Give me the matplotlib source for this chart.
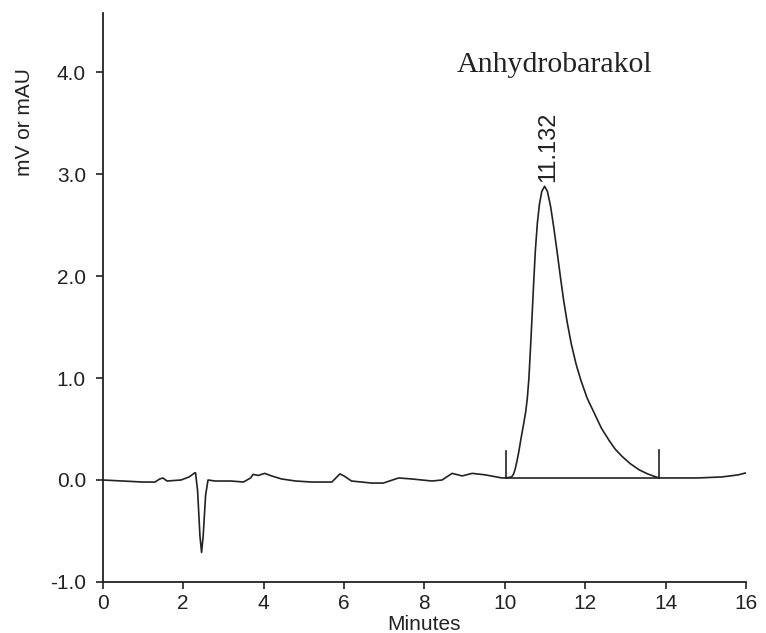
import matplotlib
matplotlib.use("Agg")
import matplotlib.pyplot as plt

# Chromatogram trace (minutes, mV or mAU)
time_min = [0.0, 0.5, 1.0, 1.3, 1.42, 1.5, 1.6, 1.95, 2.15, 2.29, 2.31, 2.36, 2.42, 2.46,
            2.50, 2.56, 2.62, 2.8, 3.2, 3.5, 3.68, 3.74, 3.87, 4.03, 4.2, 4.45, 4.8, 5.2,
            5.7, 5.9, 6.0, 6.19, 6.69, 6.98, 7.36, 7.69, 8.19, 8.44, 8.69, 8.94, 9.19,
            9.52, 9.93, 10.02, 10.17, 10.22, 10.26, 10.30, 10.35, 10.40, 10.46, 10.52,
            10.56, 10.60, 10.64, 10.68, 10.72, 10.76, 10.81, 10.86, 10.92, 10.99,
            11.06, 11.14, 11.22, 11.30, 11.38, 11.46, 11.55, 11.65, 11.77,
            11.89, 12.05, 12.22, 12.40, 12.59, 12.75, 12.92, 13.12, 13.34, 13.55, 13.76,
            13.84, 14.2, 14.8, 15.4, 15.8, 16.0]
signal = [0.00, -0.01, -0.02, -0.02, 0.01, 0.02, -0.01, 0.00, 0.03, 0.07, 0.07, -0.10, -0.55, -0.71,
          -0.55, -0.15, 0.00, -0.01, -0.01, -0.02, 0.02, 0.055, 0.045, 0.065, 0.04, 0.01, -0.01, -0.02,
          -0.02, 0.06, 0.04, -0.01, -0.03, -0.03, 0.02, 0.01, -0.01, 0.00, 0.065, 0.04, 0.065,
          0.05, 0.02, 0.02, 0.03, 0.06, 0.11, 0.18, 0.28, 0.40, 0.53, 0.67,
          0.80, 1.00, 1.30, 1.62, 1.95, 2.25, 2.52, 2.70, 2.83, 2.88,
          2.83, 2.68, 2.47, 2.24, 2.00, 1.77, 1.55, 1.34, 1.14,
          0.98, 0.80, 0.66, 0.51, 0.39, 0.30, 0.23, 0.16, 0.10, 0.06, 0.03,
          0.02, 0.02, 0.02, 0.03, 0.05, 0.07]

# Integration markers and baseline
marker_times = [10.02, 13.84]
marker_tops = [0.28, 0.29]
baseline_times = [10.02, 13.84]
baseline_values = [0.02, 0.02]

peak_label = "11.132"
peak_time = 11.0
peak_height = 2.88
compound = "Anhydrobarakol"

x_ticks = [0, 2, 4, 6, 8, 10, 12, 14, 16]
y_ticks = [-1.0, 0.0, 1.0, 2.0, 3.0, 4.0]

plt.rcParams['font.family'] = ['Liberation Sans', 'DejaVu Sans']

fig = plt.figure(figsize=(7.66, 6.33), dpi=100)
ax = fig.add_axes([0.134, 0.0806, 0.84, 0.899])

ink = '#222222'
ax.plot(time_min, signal, color=ink, lw=1.2)
ax.plot(baseline_times, baseline_values, color=ink, lw=1.2)
for t, top in zip(marker_times, marker_tops):
    ax.plot([t, t], [baseline_values[0], top], color=ink, lw=1.2)

ax.set_xlim(0, 16)
ax.set_ylim(-1.0, 4.58)
ax.set_xticks(x_ticks)
ax.set_xticklabels([str(v) for v in x_ticks])
ax.set_yticks(y_ticks)
ax.set_yticklabels([f"{v:.1f}" for v in y_ticks])

for s in ['top', 'right']:
    ax.spines[s].set_visible(False)
for s in ['left', 'bottom']:
    ax.spines[s].set_linewidth(1.3)
    ax.spines[s].set_color(ink)

ax.tick_params(axis='x', labelsize=15, length=5, width=1.2, pad=4, colors=ink)
ax.tick_params(axis='y', labelsize=15, length=5, width=1.2, pad=7, colors=ink)

ax.set_xlabel("Minutes", fontsize=15, color=ink, labelpad=1)
fig.text(25 / 766, 1 - 122 / 633, "mV or mAU", rotation=90, fontsize=15,
         ha='center', va='center', color=ink)

ax.text(peak_time + 0.07, peak_height + 0.04, peak_label, rotation=90, fontsize=17,
        ha='center', va='bottom', color=ink)
ax.text(8.8, 4.0, compound, fontsize=21.5, family=['Liberation Serif', 'DejaVu Serif'],
        ha='left', va='baseline', color=ink)

fig.savefig("out.png", dpi=100)
